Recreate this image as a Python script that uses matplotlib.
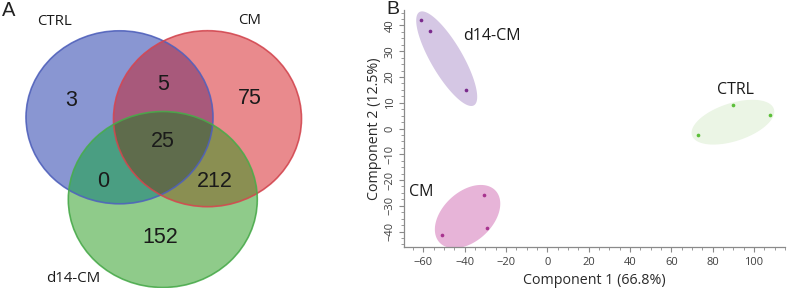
import numpy as np
import matplotlib
matplotlib.use('Agg')
import matplotlib.pyplot as plt
from matplotlib.patches import Ellipse, Polygon
from matplotlib.ticker import MultipleLocator

plt.rcParams['font.family'] = ['Open Sans', 'DejaVu Sans']

# ---- panel A: Venn counts ----
venn_sets = ['CTRL', 'CM', 'd14-CM']
venn_regions = ['CTRL', 'CM', 'CTRL&CM', 'all', 'CTRL&d14', 'CM&d14', 'd14']
venn_counts = [3, 75, 5, 25, 0, 212, 152]

# ---- panel B: PCA scores ----
groups = ['d14-CM', 'CM', 'CTRL']
pc1 = {'d14-CM': [-61.0, -57.0, -39.5],
       'CM': [-30.5, -29.0, -51.0],
       'CTRL': [73.0, 90.0, 107.5]}
pc2 = {'d14-CM': [42.0, 37.7, 15.1],
       'CM': [-25.8, -38.6, -41.3],
       'CTRL': [-2.6, 9.3, 5.4]}
# ellipse: centre, major half-vector, minor half-vector (data units)
ell_center = {'d14-CM': (-48.7, 27.1), 'CM': (-38.6, -34.2), 'CTRL': (89.8, 2.45)}
ell_major = {'d14-CM': (13.2, -18.1), 'CM': (13.55, 10.07), 'CTRL': (19.8, 5.15)}
ell_minor = {'d14-CM': (6.6, 3.1), 'CM': (8.17, -7.04), 'CTRL': (2.85, -7.0)}
label_pos = {'d14-CM': (-40.9, 36.1), 'CM': (-60.8, -24.8), 'CTRL': (90.9, 15.0)}
fill_col = {'d14-CM': '#d5c7e4', 'CM': '#e7b4d8', 'CTRL': '#ebf5e5'}
point_col = {'d14-CM': '#7a2a8c', 'CM': '#a8348f', 'CTRL': '#5cbf3a'}

fig = plt.figure(figsize=(7.87, 2.88), dpi=100)

# ================= A =================
axA = fig.add_axes([0, 0, 320 / 787, 1])
axA.set_xlim(0, 320)
axA.set_ylim(288, 0)
axA.axis('off')

# circle layout in panel pixels
cx = [119.5, 207.5, 162.8]
cy = [117.3, 118.7, 199.5]
cw = [187, 188, 189]
ch = [173, 176, 176]
edge = ['#4d5fbf', '#d8434d', '#46ad48']

xs = np.linspace(0, 320, 960)
ys = np.linspace(0, 288, 864)
X, Y = np.meshgrid(xs, ys)
code = np.zeros(X.shape, dtype=int)
for i in range(3):
    inside = ((X - cx[i]) / (cw[i] / 2)) ** 2 + ((Y - cy[i]) / (ch[i] / 2)) ** 2 <= 1
    code += inside.astype(int) << i
region_colors = {1: '#8997d2', 2: '#e98b8d', 3: '#a95a7b', 4: '#8fcb8b',
                 5: '#4a9e82', 6: '#8a8f52', 7: '#5f6d4c'}
img = np.zeros(X.shape + (4,))
for k, c in region_colors.items():
    img[code == k] = matplotlib.colors.to_rgba(c)
axA.imshow(img, extent=(0, 320, 288, 0), interpolation='antialiased', zorder=1)
for i in range(3):
    axA.add_patch(Ellipse((cx[i], cy[i]), cw[i], ch[i], fill=False,
                          edgecolor=edge[i], lw=1.2, alpha=0.85, zorder=2))

num_pos = [(71, 100), (250, 98.3), (163.3, 85), (163.3, 141.7),
           (102.7, 181.7), (215, 181.7), (160, 237.3)]
for (px, py), n in zip(num_pos, venn_counts):
    axA.text(px, py, str(n), fontsize=15.5, ha='center', va='center',
             family='Liberation Sans', color='#1a1a1a', zorder=3)
set_pos = [(54, 21.3), (250, 20), (73.3, 278)]
for (px, py), s in zip(set_pos, venn_sets):
    axA.text(px, py, s, fontsize=10.8, ha='center', va='center', color='#1a1a1a')

fig.text(1.5 / 787, 1 - 1 / 288, 'A', fontsize=14.5, family='Liberation Sans',
         ha='left', va='top', color='#222222')
fig.text(386 / 787, 1 - 1 / 288, 'B', fontsize=14, family='Liberation Sans',
         ha='left', va='top', color='#222222')

# ================= B =================
ax = fig.add_axes([403.5 / 787, (288 - 247) / 288, (785 - 403.5) / 787, (247 - 10) / 288])
t = np.linspace(0, 2 * np.pi, 200)
for g in groups:
    c0 = np.array(ell_center[g])
    a = np.array(ell_major[g])
    b = np.array(ell_minor[g])
    pts = c0 + np.outer(np.cos(t), a) + np.outer(np.sin(t), b)
    ax.add_patch(Polygon(pts, closed=True, facecolor=fill_col[g], edgecolor='none', zorder=1))
    ax.scatter(pc1[g], pc2[g], s=7, color=point_col[g], zorder=3, linewidths=0)
    lx, ly = label_pos[g]
    ha = 'left' if g == 'd14-CM' else 'center'
    ax.text(lx, ly, g, fontsize=11.5, ha=ha, va='center', color='#1a1a1a', zorder=4)

ax.set_xlim(-69.6, 115)
ax.set_ylim(-46, 46)
ax.xaxis.set_major_locator(MultipleLocator(20))
ax.xaxis.set_minor_locator(MultipleLocator(5))
ax.yaxis.set_major_locator(MultipleLocator(10))
ax.yaxis.set_minor_locator(MultipleLocator(2.5))
for s in ['top', 'right']:
    ax.spines[s].set_visible(False)
for s in ['left', 'bottom']:
    ax.spines[s].set_color('#8a8a8a')
    ax.spines[s].set_linewidth(0.9)
ax.tick_params(which='major', direction='out', length=3.5, width=0.8, color='#8a8a8a',
               labelsize=8, labelcolor='#404040')
ax.tick_params(which='minor', direction='out', length=2, width=0.6, color='#8a8a8a')
ax.tick_params(axis='x', pad=4)
ax.tick_params(axis='y', pad=2)
for lab in ax.get_yticklabels():
    lab.set_rotation(90)
    lab.set_va('center')
ax.set_xlabel('Component 1 (66.8%)', fontsize=10.3, color='#2a2a2a', labelpad=3)
ax.set_ylabel('Component 2 (12.5%)', fontsize=10.3, color='#2a2a2a', labelpad=2)

fig.savefig('out.png', dpi=100)
